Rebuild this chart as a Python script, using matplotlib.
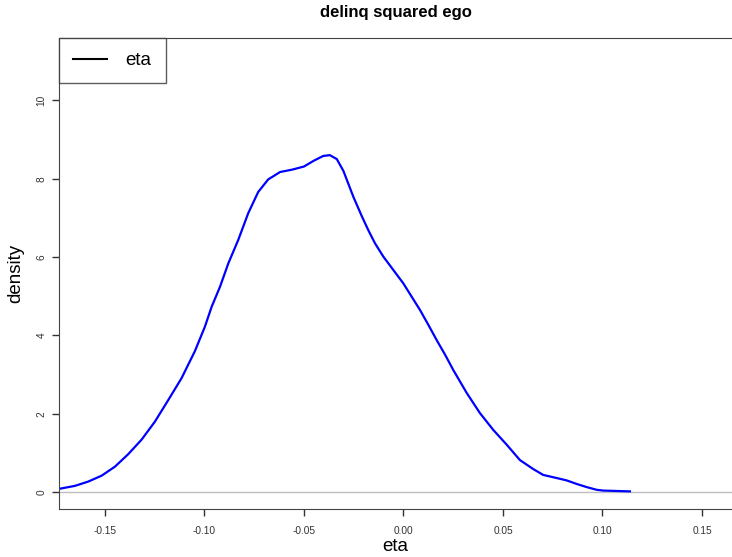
import numpy as np
import matplotlib
matplotlib.use("Agg")
from matplotlib import pyplot as plt

plt.rcParams['font.family'] = ['Liberation Sans', 'DejaVu Sans']

# density curve
eta_x = [-0.1735, -0.1651, -0.1584, -0.1517, -0.1450, -0.1383, -0.1316,
         -0.1249, -0.1182, -0.1115, -0.1048, -0.0998, -0.0964, -0.0922,
         -0.0880, -0.0830, -0.0780, -0.0730, -0.0680, -0.0620, -0.0560,
         -0.0500, -0.0450, -0.0403, -0.0370, -0.0335, -0.0302, -0.0252,
         -0.0210, -0.0177, -0.0143, -0.0101, -0.0051, -0.0001, 0.0041,
         0.0083, 0.0125, 0.0167, 0.0210, 0.0250, 0.0318, 0.0384,
         0.0451, 0.0519, 0.0585, 0.0652, 0.0702, 0.0770, 0.0820,
         0.0870, 0.0920, 0.0971, 0.1004, 0.1071, 0.1138]
eta_density = [0.08, 0.16, 0.27, 0.42, 0.65, 0.97, 1.34,
               1.80, 2.35, 2.91, 3.60, 4.22, 4.73, 5.24,
               5.84, 6.44, 7.12, 7.66, 7.98, 8.17, 8.23,
               8.31, 8.46, 8.58, 8.60, 8.50, 8.20, 7.54,
               7.05, 6.69, 6.35, 6.01, 5.67, 5.33, 4.99,
               4.65, 4.27, 3.88, 3.50, 3.12, 2.53, 2.02,
               1.59, 1.21, 0.82, 0.59, 0.44, 0.36, 0.30,
               0.21, 0.13, 0.06, 0.04, 0.03, 0.02]

x_ticks = [-0.15, -0.10, -0.05, 0.00, 0.05, 0.10, 0.15]
y_ticks = [0, 2, 4, 6, 8, 10]

fig = plt.figure(figsize=(7.32, 5.57), dpi=100)
ax = fig.add_axes([59 / 732, 1 - 509 / 557, 673 / 732, 471 / 557])

ax.axhline(0, color='#BEBEBE', lw=1)
ax.plot(eta_x, eta_density, color='blue', lw=1.6, solid_joinstyle='round')

ax.set_xlim(-0.1731, 0.1651)
ax.set_ylim(-0.43, 11.59)
ax.set_xticks(x_ticks)
ax.set_xticklabels([f"{v:.2f}" for v in x_ticks])
ax.set_yticks(y_ticks)
ax.set_yticklabels([str(v) for v in y_ticks], rotation=90, va='center')
ax.tick_params(labelsize=7.3, length=5, width=1, colors='#333333')
ax.tick_params(axis='x', pad=7)
ax.tick_params(axis='y', pad=4)

for side in ['left', 'bottom', 'top']:
    ax.spines[side].set_color('#444444')
ax.spines['right'].set_visible(False)

ax.set_xlabel('eta', fontsize=13.5, labelpad=2)
ax.set_ylabel('density', fontsize=13.5, labelpad=9)
ax.set_title('delinq squared ego', fontsize=12, fontweight='bold', pad=15)

leg = ax.legend([plt.Line2D([], [], color='black', lw=1.5)], ['eta'],
                loc='upper left', bbox_to_anchor=(0, 1), borderaxespad=0,
                fontsize=13.5, fancybox=False, handlelength=1.8,
                borderpad=0.75, handletextpad=1.0)
leg.get_frame().set_edgecolor('#333333')
leg.get_frame().set_linewidth(1)

fig.savefig('out.png', dpi=100)
